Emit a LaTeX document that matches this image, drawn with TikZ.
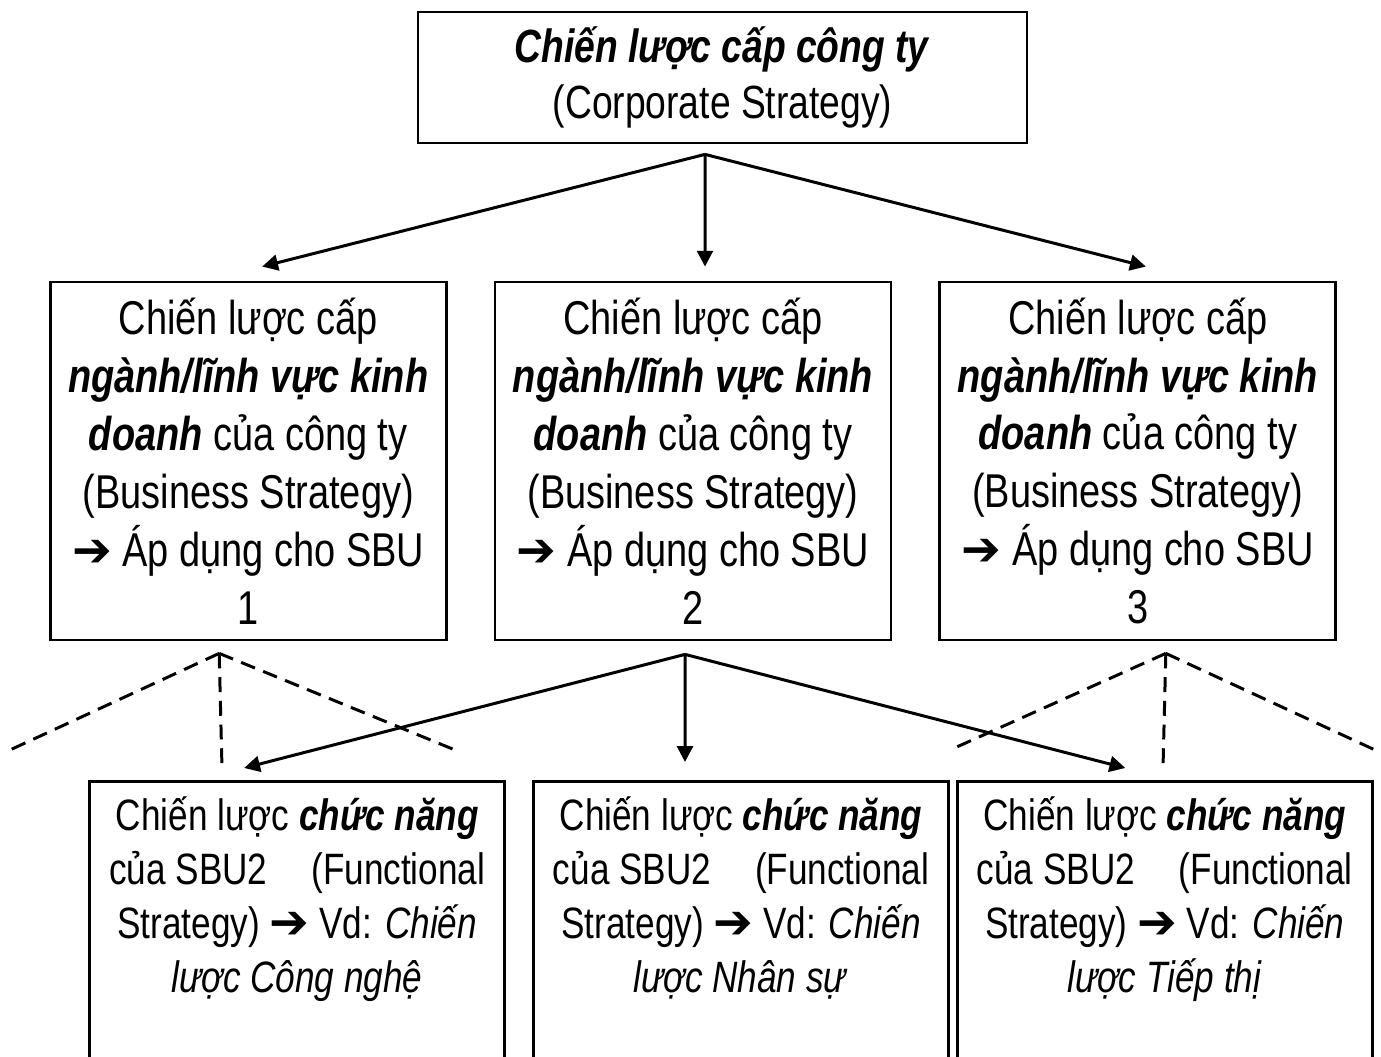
\documentclass[tikz,border=0pt]{standalone}
\usepackage{fontspec}
\setmainfont[FakeStretch=0.8]{Liberation Sans}
\newfontfamily\arrowfont{DejaVu Sans}
\usepackage{tikz}
\usetikzlibrary{positioning,arrows.meta}
\tikzset{
    level/.style={draw, line width=1.6pt, align=center, inner xsep=0.16cm},
    topbox/.style={level, minimum width=12.18cm, minimum height=2.62cm,
        font=\fontsize{26.5}{32}\selectfont},
    sbubox/.style={level, minimum width=7.92cm, minimum height=7.16cm,
        font=\fontsize{27}{33}\selectfont},
    funcbox/.style={level, minimum width=8.3cm, inner ysep=9pt, text depth=6cm,
        font=\fontsize{25}{30.7}\selectfont},
    link/.style={line width=1.7pt, -{Triangle[length=9pt,width=9pt]}},
    hint/.style={line width=1.7pt, dash pattern=on 8.5pt off 5pt}
}
\newcommand{\goes}{{\arrowfont\fontsize{27}{30}\selectfont ➔}}

\begin{document}
\begin{tikzpicture}[x=1cm, y=1cm]

\clip (0,0) rectangle (27.62,21.14);
\fill[white] (0,0) rectangle (27.62,21.14);

% ===============================================================
% ==== Corporate level ====
% ===============================================================
\node[topbox] (corp) at (14.45,19.59)
    {\textbf{\textit{Chiến lược cấp công ty}}\\(Corporate Strategy)};

% ===============================================================
% ==== Business level (SBU) ====
% ===============================================================
\node[sbubox] (sbu2) at (13.86,11.92)
    {Chiến lược cấp\\\textbf{\textit{ngành/lĩnh vực kinh}}\\\textbf{\textit{doanh}} của công ty\\(Business Strategy)\\\goes{} Áp dụng cho SBU\\2};
\node[sbubox, left=0.92cm of sbu2] (sbu1)
    {Chiến lược cấp\\\textbf{\textit{ngành/lĩnh vực kinh}}\\\textbf{\textit{doanh}} của công ty\\(Business Strategy)\\\goes{} Áp dụng cho SBU\\1};
\node[sbubox, right=0.92cm of sbu2] (sbu3)
    {Chiến lược cấp\\\textbf{\textit{ngành/lĩnh vực kinh}}\\\textbf{\textit{doanh}} của công ty\\(Business Strategy)\\\goes{} Áp dụng cho SBU\\3};

% ===============================================================
% ==== Functional level ====
% ===============================================================
\node[funcbox, anchor=north] (funB) at (14.82,5.54)
    {Chiến lược \textbf{\textit{chức năng}}\\của SBU2\quad(Functional\\Strategy) \goes{} Vd: \textit{Chiến}\\\textit{lược Nhân sự}};
\node[funcbox, left=0.52cm of funB] (funA)
    {Chiến lược \textbf{\textit{chức năng}}\\của SBU2\quad(Functional\\Strategy) \goes{} Vd: \textit{Chiến}\\\textit{lược Công nghệ}};
\node[funcbox, right=0.12cm of funB] (funC)
    {Chiến lược \textbf{\textit{chức năng}}\\của SBU2\quad(Functional\\Strategy) \goes{} Vd: \textit{Chiến}\\\textit{lược Tiếp thị}};

% === branching points
\coordinate (corpfork) at ([xshift=-0.35cm, yshift=-0.2cm]corp.south);
\coordinate (sbu1fork) at ([xshift=-0.58cm, yshift=-0.24cm]sbu1.south);
\coordinate (sbu2fork) at ([xshift=-0.16cm, yshift=-0.26cm]sbu2.south);
\coordinate (sbu3fork) at ([xshift=0.56cm, yshift=-0.24cm]sbu3.south);

% === corporate -> SBU
\draw[link] (corpfork) -- ([xshift=0.28cm, yshift=0.28cm]sbu1.north);
\draw[link] (corpfork) -- ([xshift=0.24cm, yshift=0.28cm]sbu2.north);
\draw[link] (corpfork) -- ([xshift=0.16cm, yshift=0.28cm]sbu3.north);

% === SBU 2 -> functional
\draw[link] (sbu2fork) -- ([xshift=-1.06cm, yshift=0.24cm]funA.north);
\draw[link] (sbu2fork) -- ([xshift=-1.12cm, yshift=0.36cm]funB.north);
\draw[link] (sbu2fork) -- ([xshift=-0.79cm, yshift=0.24cm]funC.north);

% === SBU 1 and 3 (dashed, not detailed)
\draw[hint] (sbu1fork) -- (0.2,6.14);
\draw[hint] (sbu1fork) -- (4.44,5.78);
\draw[hint] (sbu1fork) -- (9.1,6.14);
\draw[hint] (sbu3fork) -- (19.0,6.14);
\draw[hint] (sbu3fork) -- (23.26,5.78);
\draw[hint] (sbu3fork) -- (27.5,6.14);

\end{tikzpicture}
\end{document}
